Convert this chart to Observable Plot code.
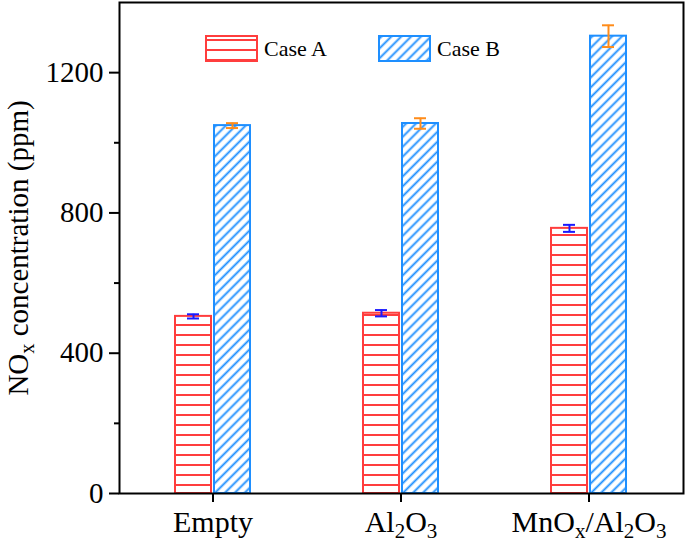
<!DOCTYPE html>
<html>
<head>
<meta charset="utf-8">
<script src="https://cdn.jsdelivr.net/npm/d3@7"></script>
<script src="https://cdn.jsdelivr.net/npm/@observablehq/plot@0.6"></script>
<style>
  html, body { margin: 0; padding: 0; background: #fff; }
  #wrap { position: relative; width: 685px; height: 544px; font-family: "Liberation Serif", "Times New Roman", serif; }
  #legend { position: absolute; top: 35px; left: 205px; display: flex; align-items: center; font-size: 22px; color: #000; }
  .item { display: flex; align-items: center; }
  .item svg { display: block; }
  .item span { margin-left: 6px; }
</style>
</head>
<body>
<div id="wrap">
  <div id="chart"></div>
  <div id="legend"></div>
</div>
<script>
// ---- data ----
const categories = ["Empty", "Al2O3", "MnOx/Al2O3"];
const seriesNames = ["Case A", "Case B"];
const caseAValues = [505, 514, 756];
const caseAErrors = [6, 9, 10];
const caseBValues = [1049, 1055, 1304];
const caseBErrors = [7, 15, 31];
const yMajorTicks = [0, 400, 800, 1200];
const yMinorTicks = [200, 600, 1000];
const yLabel = "NOx concentration (ppm)";

// ---- styles ----
const redColor = "#ff3d3d";
const blueColor = "#1e8fff";
const errAColor = "#1a1aff";
const errBColor = "#ff8c1a";

const rowsA = categories.map((c, i) => ({category: c, value: caseAValues[i], err: caseAErrors[i]}));
const rowsB = categories.map((c, i) => ({category: c, value: caseBValues[i], err: caseBErrors[i]}));

const chart = Plot.plot({
  width: 685,
  height: 544,
  marginLeft: 119,
  marginRight: 2,
  marginTop: 2,
  marginBottom: 51,
  style: {fontFamily: '"Liberation Serif", "Times New Roman", serif', fontSize: "30px", color: "#000", background: "#fff"},
  x: {domain: categories, paddingInner: 0.601, paddingOuter: 0.3005, label: null},
  y: {domain: [0, 1400], label: null},
  marks: [
    Plot.barY(rowsA, {x: "category", y: "value", fill: "url(#hatchA)", stroke: redColor, strokeWidth: 2, insetRight: 39}),
    Plot.barY(rowsB, {x: "category", y: "value", fill: "url(#hatchB)", stroke: blueColor, strokeWidth: 2, insetLeft: 39}),
    Plot.ruleX(rowsA, {x: "category", y1: d => d.value - d.err, y2: d => d.value + d.err, dx: -19.5, stroke: errAColor, strokeWidth: 2}),
    Plot.tickY(rowsA, {x: "category", y: d => d.value - d.err, insetLeft: 12, insetRight: 51, stroke: errAColor, strokeWidth: 2}),
    Plot.tickY(rowsA, {x: "category", y: d => d.value + d.err, insetLeft: 12, insetRight: 51, stroke: errAColor, strokeWidth: 2}),
    Plot.ruleX(rowsB, {x: "category", y1: d => d.value - d.err, y2: d => d.value + d.err, dx: 19.5, stroke: errBColor, strokeWidth: 2}),
    Plot.tickY(rowsB, {x: "category", y: d => d.value - d.err, insetLeft: 51, insetRight: 12, stroke: errBColor, strokeWidth: 2}),
    Plot.tickY(rowsB, {x: "category", y: d => d.value + d.err, insetLeft: 51, insetRight: 12, stroke: errBColor, strokeWidth: 2}),
    Plot.axisY({ticks: yMajorTicks, tickSize: 10, tickPadding: 6, strokeWidth: 2, fontSize: 30, tickFormat: d => String(d),
                label: yLabel, labelAnchor: "center", labelArrow: "none", labelOffset: 112, fontSize: 29}),
    Plot.axisY({ticks: yMinorTicks, tickSize: 5, strokeWidth: 2, tickFormat: () => "", label: null}),
    Plot.axisX({tickSize: 9, tickPadding: 8, strokeWidth: 2, fontSize: 30, label: null}),
    Plot.frame({stroke: "#000", strokeWidth: 2})
  ]
});

// pattern definitions
const ns = "http://www.w3.org/2000/svg";
const defs = document.createElementNS(ns, "defs");
defs.innerHTML = `
  <pattern id="hatchA" patternUnits="userSpaceOnUse" width="10" height="10">
    <rect width="10" height="10" fill="#fff"/>
    <line x1="0" y1="5" x2="10" y2="5" stroke="${redColor}" stroke-width="2"/>
  </pattern>
  <pattern id="hatchB" patternUnits="userSpaceOnUse" width="7" height="7" patternTransform="rotate(45)">
    <rect width="7" height="7" fill="#fff"/>
    <line x1="3.5" y1="0" x2="3.5" y2="7" stroke="${blueColor}" stroke-width="1.9"/>
  </pattern>`;
chart.insertBefore(defs, chart.firstChild);

// rich text (subscripts)
const sub = s => `<tspan baseline-shift="-0.3em" font-size="70%">${s}</tspan>`;
const rich = {
  "Al2O3": `Al${sub("2")}O${sub("3")}`,
  "MnOx/Al2O3": `MnO${sub("x")}/Al${sub("2")}O${sub("3")}`,
  "NOx concentration (ppm)": `NO${sub("x")} concentration (ppm)`
};
chart.querySelectorAll("text").forEach(t => {
  const k = t.textContent;
  if (rich[k]) t.innerHTML = rich[k];
});

document.getElementById("chart").appendChild(chart);

// legend
const legend = document.getElementById("legend");
const fills = ["url(#hatchA)", "url(#hatchB)"];
const strokes = [redColor, blueColor];
seriesNames.forEach((name, i) => {
  const item = document.createElement("div");
  item.className = "item";
  if (i > 0) item.style.marginLeft = "51px";
  item.innerHTML = `<svg width="53" height="27"><rect x="1" y="1" width="51" height="25" fill="${fills[i]}" stroke="${strokes[i]}" stroke-width="2"/></svg><span>${name}</span>`;
  legend.appendChild(item);
});
</script>
</body>
</html>
